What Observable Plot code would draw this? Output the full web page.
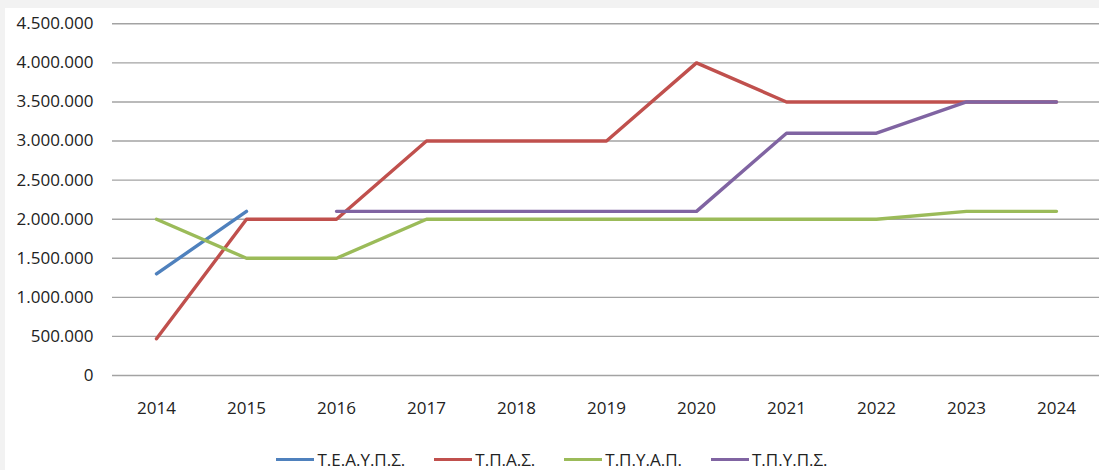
<!DOCTYPE html>
<html>
<head>
<meta charset="utf-8">
<script src="https://cdn.jsdelivr.net/npm/d3@7"></script>
<script src="https://cdn.jsdelivr.net/npm/@observablehq/plot@0.6"></script>
<style>
  html, body { margin: 0; padding: 0; background: #f2f2f2; }
  #wrap { position: absolute; left: 5px; top: 8px; width: 1094px; height: 462px; background: #fff; overflow: hidden; }
  #chart svg { display: block; }
  #legend { position: absolute; left: 0; top: 420px; width: 1094px; height: 42px; padding-top: 21px; box-sizing: border-box;
            display: flex; justify-content: center; align-items: center; gap: 29px;
            font-family: "Open Sans", sans-serif; font-size: 17px; color: #222; }
  .item { display: flex; align-items: center; height: 17px; }
  .swatch { width: 38px; height: 3px; margin-right: 3px; }
</style>
</head>
<body>
<div id="wrap">
  <div id="chart"></div>
  <div id="legend"></div>
</div>
<script>
const years = [2014, 2015, 2016, 2017, 2018, 2019, 2020, 2021, 2022, 2023, 2024];
const seriesNames = ["Τ.Ε.Α.Υ.Π.Σ.", "Τ.Π.Α.Σ.", "Τ.Π.Υ.Α.Π.", "Τ.Π.Υ.Π.Σ."];
const seriesColors = ["#4F81BD", "#C0504D", "#9BBB59", "#8064A2"];
const teaups = [1300000, 2100000, null, null, null, null, null, null, null, null, null];
const tpas   = [470000, 2000000, 2000000, 3000000, 3000000, 3000000, 4000000, 3500000, 3500000, 3500000, 3500000];
const tpyap  = [2000000, 1500000, 1500000, 2000000, 2000000, 2000000, 2000000, 2000000, 2000000, 2100000, 2100000];
const tpyps  = [null, null, 2100000, 2100000, 2100000, 2100000, 2100000, 3100000, 3100000, 3500000, 3500000];
const yTicks = [0, 500000, 1000000, 1500000, 2000000, 2500000, 3000000, 3500000, 4000000, 4500000];

const seriesValues = [teaups, tpas, tpyap, tpyps];
const data = [];
seriesNames.forEach((name, s) => {
  years.forEach((yr, i) => data.push({year: yr, value: seriesValues[s][i], name}));
});

const fmt = d => d3.format(",")(d).replace(/,/g, ".");

const chart = Plot.plot({
  width: 1094,
  height: 420,
  marginLeft: 107,
  marginRight: 0,
  marginTop: 15.3,
  marginBottom: 53,
  style: {fontFamily: "Open Sans, sans-serif", fontSize: "17px", background: "transparent"},
  x: {type: "point", domain: years, range: [151, 1051.3], padding: 0, insetLeft: 0, insetRight: 0},
  y: {domain: [0, 4500000]},
  color: {domain: seriesNames, range: seriesColors},
  marks: [
    Plot.ruleY(yTicks, {stroke: "#a3a3a3", strokeWidth: 1.4}),
    Plot.axisY(yTicks, {tickSize: 0, tickPadding: 19, tickFormat: fmt, label: null, fill: "#222", fontSize: 17}),
    Plot.axisX({tickSize: 0, tickPadding: 26, tickFormat: d => String(d), label: null, fill: "#222", fontSize: 17}),
    Plot.line(data, {x: "year", y: "value", z: "name", stroke: "name", strokeWidth: 3.4, strokeLinecap: "round", strokeLinejoin: "round"})
  ]
});
document.getElementById("chart").appendChild(chart);

const legend = document.getElementById("legend");
seriesNames.forEach((name, i) => {
  const item = document.createElement("div");
  item.className = "item";
  const sw = document.createElement("span");
  sw.className = "swatch";
  sw.style.background = seriesColors[i];
  const tx = document.createElement("span");
  tx.textContent = name;
  item.appendChild(sw);
  item.appendChild(tx);
  legend.appendChild(item);
});
</script>
</body>
</html>
